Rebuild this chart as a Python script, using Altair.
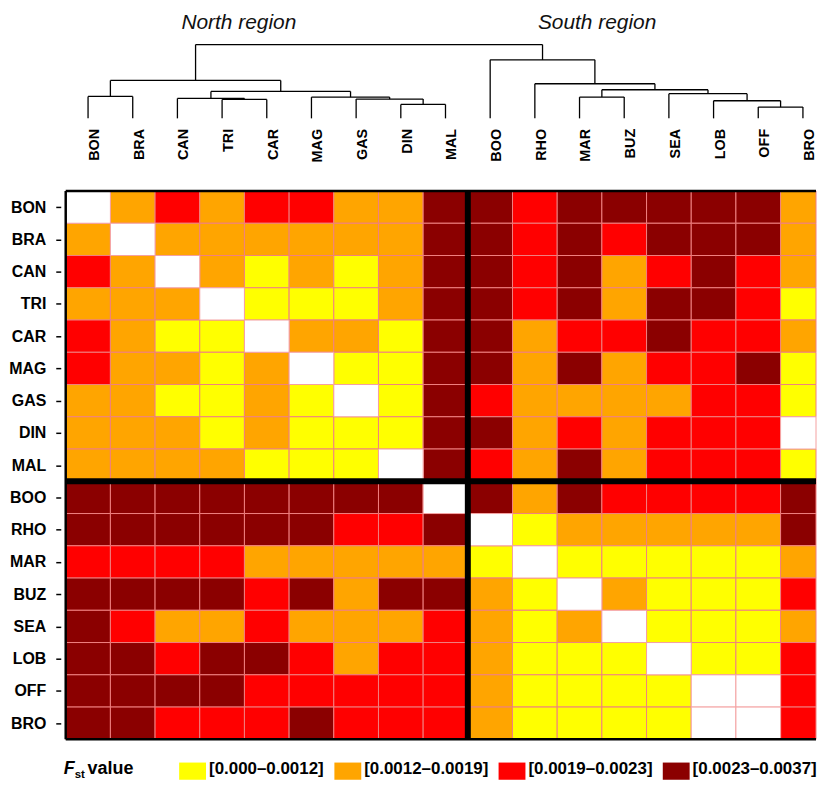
import altair as alt
import pandas as pd

# ---------------- data ----------------
populations = ["BON", "BRA", "CAN", "TRI", "CAR", "MAG", "GAS", "DIN", "MAL",
               "BOO", "RHO", "MAR", "BUZ", "SEA", "LOB", "OFF", "BRO"]
north = populations[:9]
south = populations[9:]
region_titles = ["North region", "South region"]

# F_st class of every cell (row by row). Y/O/R/D = the four classes, W = blank cell
fst_rows = [
    "WORORROOD" + "DRDDDDDO",   # BON
    "OWOOOOOOD" + "DRDRDDDO",   # BRA
    "ROWOYOYOD" + "DRDORDRO",   # CAN
    "OOOWYYYOD" + "DRDODDRY",   # TRI
    "ROYYWOOYD" + "DORRDRRO",   # CAR
    "ROOYOWYYD" + "DODORRDY",   # MAG
    "OOYYOYWYD" + "ROOOORRY",   # GAS
    "OOOYOYYYD" + "DORORRRW",   # DIN
    "OOOOYYYWD" + "RODORRRY",   # MAL
    "DDDDDDDDW" + "DODRRRRD",   # BOO
    "DDDDDDRRD" + "WYOOOOOD",   # RHO
    "RRRROOOOO" + "YWYYYYYO",   # MAR
    "DDDDRDODD" + "OYWOYYYR",   # BUZ
    "DROOROOOR" + "OYOWYYYO",   # SEA
    "DDRDDRORR" + "OYYYWYYR",   # LOB
    "DDDDRRRRR" + "OYYYYWWR",   # OFF
    "DDRRRDRRR" + "OYYYYWWR",   # BRO
]
fst_codes = ["Y", "O", "R", "D"]
fst_labels = ["[0.000\u20130.0012]", "[0.0012\u20130.0019]",
              "[0.0019\u20130.0023]", "[0.0023\u20130.0037]"]
fst_colors = ["#FFFF00", "#FFA500", "#FF0000", "#8B0000"]

# dendrogram linkage (merge k is called M{k}); heights relative to the root
merge_left = ["DIN", "TRI", "GAS", "CAN", "MAG", "BON", "M4", "M6",
              "OFF", "LOB", "MAR", "SEA", "M11", "RHO", "BOO", "M8"]
merge_right = ["MAL", "CAR", "M1", "M2", "M3", "BRA", "M5", "M7",
               "BRO", "M9", "BUZ", "M10", "M12", "M13", "M14", "M15"]
merge_height = [0.189, 0.257, 0.261, 0.270, 0.288, 0.297, 0.365, 0.514,
                0.153, 0.239, 0.288, 0.334, 0.388, 0.469, 0.793, 1.0]

# ---------------- layout constants ----------------
STEP = 44.9
W = 754
X_END = -0.5 + W / STEP   # right end of the visible x range (last column is cut)
H_DEN = 109
H_MAP = 551
GAP = 73

# ---------------- derived tables ----------------
pos = {p: float(i) for i, p in enumerate(populations)}
hgt = {p: 0.0 for p in populations}
segs = []
for k, (l, r, h) in enumerate(zip(merge_left, merge_right, merge_height), start=1):
    segs.append((pos[l], pos[l], hgt[l], h))
    segs.append((pos[r], pos[r], hgt[r], h))
    segs.append((pos[l], pos[r], h, h))
    pos[f"M{k}"] = (pos[l] + pos[r]) / 2
    hgt[f"M{k}"] = h
seg_df = pd.DataFrame(segs, columns=["x", "x2", "y", "y2"])

label_of = dict(zip(fst_codes, fst_labels))
cells = []
for r, row in enumerate(fst_rows):
    assert len(row) == len(populations)
    for c, code in enumerate(row):
        cells.append({"row": populations[r], "col": populations[c],
                      "x0": c - 0.5, "x1": min(c + 0.5, X_END),
                      "y0": r - 0.5, "y1": r + 0.5,
                      "code": code, "fst": label_of.get(code, "")})
cell_df = pd.DataFrame(cells)

n = len(populations)
nb = len(north)

xs = alt.Scale(domain=[-0.5, X_END], nice=False, zero=False)
ys = alt.Scale(domain=[-0.5, n - 0.5], reverse=True, nice=False, zero=False)
label_expr = "[" + ",".join(f"'{p}'" for p in populations) + "][datum.value]"

# ----- dendrogram panel -----
dendro = alt.Chart(seg_df).mark_rule(color="black", strokeWidth=1.3).encode(
    x=alt.X("x:Q", scale=xs, axis=alt.Axis(
        values=list(range(n)), labelExpr=label_expr, labelAngle=270,
        labelAlign="right", labelBaseline="middle", labelPadding=10, labelOffset=6.5,
        labelFontSize=14.5, labelFontWeight="bold", labelColor="black",
        labelFlush=False, labelOverlap=False, domain=False, ticks=False,
        grid=False, title=None)),
    x2="x2:Q",
    y=alt.Y("y:Q", scale=alt.Scale(domain=[0, 1.47], nice=False, zero=False), axis=None),
    y2="y2:Q",
)
title_style = dict(fontSize=21, fontStyle="italic", align="center", baseline="top",
                   color="#111111")
north_title = alt.Chart(pd.DataFrame({"t": [region_titles[0]]})).mark_text(
    **title_style).encode(text="t:N", x=alt.value(174), y=alt.value(2))
south_title = alt.Chart(pd.DataFrame({"t": [region_titles[1]]})).mark_text(
    **title_style).encode(text="t:N", x=alt.value(534), y=alt.value(2))

top = alt.layer(dendro, north_title, south_title).properties(width=W, height=H_DEN)

# ----- heatmap panel -----
y_axis = alt.Axis(
    values=list(range(n)), labelExpr=label_expr, labelFontSize=16,
    labelFontWeight="bold", labelColor="black", labelPadding=10,
    tickSize=5, tickWidth=1.5, tickColor="black", offset=5,
    domain=False, grid=False, title=None, labelFlush=False, labelOverlap=False)

colored = alt.Chart(cell_df[cell_df.code != "W"]).mark_rect(
    stroke="#F08080", strokeWidth=1
).encode(
    x=alt.X("x0:Q", scale=xs, axis=None),
    x2="x1:Q",
    y=alt.Y("y0:Q", scale=ys, axis=y_axis),
    y2="y1:Q",
    color=alt.Color("fst:N", scale=alt.Scale(domain=fst_labels, range=fst_colors),
                    legend=alt.Legend(
                        title=None, orient="none", legendX=114, legendY=749,
                        direction="horizontal",
                        symbolType="M-1,-0.48H1V0.8H-1Z", symbolSize=729,
                        symbolStrokeWidth=0, labelFontSize=17, labelFontWeight="bold",
                        labelColor="black", labelOffset=3, columnPadding=10,
                        padding=0, labelLimit=300)),
)
blank = alt.Chart(cell_df[cell_df.code == "W"]).mark_rect(
    fill="white", stroke="#F4A0A0", strokeWidth=1
).encode(x=alt.X("x0:Q", scale=xs, axis=None), x2="x1:Q",
         y=alt.Y("y0:Q", scale=ys, axis=y_axis), y2="y1:Q")

div_df = pd.DataFrame({
    "x": [nb - 0.5, -0.5], "x2": [nb - 0.5, X_END],
    "y": [-0.5, nb - 0.5], "y2": [n - 0.5, nb - 0.5]})
dividers = alt.Chart(div_df).mark_rule(color="black", strokeWidth=6).encode(
    x=alt.X("x:Q", scale=xs, axis=None), x2="x2:Q",
    y=alt.Y("y:Q", scale=ys, axis=y_axis), y2="y2:Q")

frame_df = pd.DataFrame({
    "x": [-0.5, -0.5, -0.5], "x2": [X_END, -0.5, X_END],
    "y": [-0.5, -0.5, n - 0.5], "y2": [-0.5, n - 0.5, n - 0.5]})
frame = alt.Chart(frame_df).mark_rule(color="black", strokeWidth=2.5).encode(
    x=alt.X("x:Q", scale=xs, axis=None), x2="x2:Q",
    y=alt.Y("y:Q", scale=ys, axis=y_axis), y2="y2:Q")

f_txt = alt.Chart(pd.DataFrame({"t": ["F"]})).mark_text(
    fontSize=18, fontStyle="italic", fontWeight="bold", align="left",
    baseline="alphabetic", color="black"
).encode(text="t:N", x=alt.value(-2), y=alt.value(586))
st_txt = alt.Chart(pd.DataFrame({"t": ["st"]})).mark_text(
    fontSize=11.5, fontWeight="bold", align="left", baseline="alphabetic", color="black"
).encode(text="t:N", x=alt.value(9), y=alt.value(590))
val_txt = alt.Chart(pd.DataFrame({"t": ["value"]})).mark_text(
    fontSize=18, fontWeight="bold", align="left", baseline="alphabetic", color="black"
).encode(text="t:N", x=alt.value(22), y=alt.value(586))

heat = alt.layer(colored, blank, dividers, frame, f_txt, st_txt, val_txt).properties(
    width=W, height=H_MAP)

chart = alt.vconcat(top, heat, spacing=GAP, bounds="flush").properties(
    padding=0
).configure(font="Liberation Sans").configure_view(stroke=None)

chart.save("out.html", embed_options={"renderer": "svg", "actions": False})
